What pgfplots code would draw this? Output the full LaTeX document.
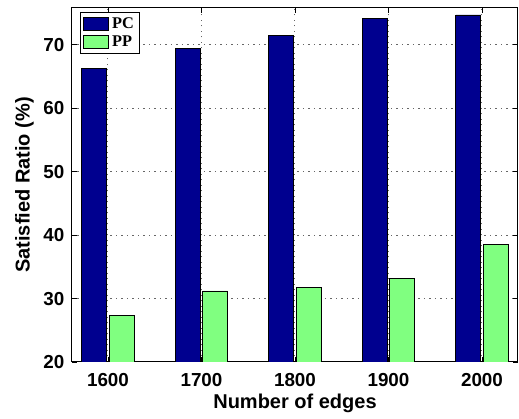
\documentclass[border=0pt]{standalone}
\usepackage{fontspec}
\setmainfont{Liberation Sans}
\newfontfamily\legfont{Liberation Serif}
\usepackage{pgfplots}
\pgfplotsset{compat=1.18}
\definecolor{pcblue}{rgb}{0,0,0.5625}
\definecolor{ppgreen}{rgb}{0.5,1,0.5}
\begin{document}
\begin{tikzpicture}
\begin{axis}[
  scale only axis,
  width=267.6pt, height=212.4pt,
  ybar=1.4pt, bar width=15pt,
  xmin=-0.385, xmax=4.385,
  ymin=20, ymax=75.8,
  xtick={0,1,2,3,4},
  xticklabels={1600,1700,1800,1900,2000},
  ytick={20,30,40,50,60,70},
  tick align=inside,
  major tick length=3pt,
  xtick pos=both, ytick pos=both,
  xmajorgrids, ymajorgrids,
  grid style={dash pattern=on 0.7pt off 2.6pt, black!60, line width=0.6pt},
  axis line style={black, line width=0.6pt},
  tick style={black, line width=0.5pt},
  /pgf/number format/assume math mode=true,
  ticklabel style={font=\bfseries\fontsize{11.3}{13}\selectfont},
  yticklabel style={xshift=-1pt},
  xticklabel style={yshift=-3pt},
  label style={font=\bfseries\fontsize{12}{14}\selectfont},
  xlabel={Number of edges},
  ylabel={Satisfied Ratio (\%)},
  ylabel style={yshift=-1pt},
  xlabel style={yshift=2pt},
  legend style={at={(0,1)}, anchor=north west, xshift=4.8pt, yshift=-2.4pt,
    font=\legfont\bfseries\fontsize{9.8}{11}\selectfont, draw=black, line width=0.6pt,
    inner xsep=1.5pt, inner ysep=1pt, row sep=-1pt, cells={anchor=west}},
  legend image code/.code={\draw[#1, line width=0.5pt] (0pt,-3.9pt) rectangle (15pt,3.9pt);},
  legend cell align=left,
]
\addplot[fill=pcblue, draw=black, line width=0.5pt] coordinates {(0,66.2) (1,69.4) (2,71.4) (3,74.1) (4,74.7)};
\addplot[fill=ppgreen, draw=black, line width=0.5pt] coordinates {(0,27.3) (1,31.2) (2,31.8) (3,33.2) (4,38.5)};
\legend{PC,PP}
\end{axis}
\path ([xshift=-43.2pt,yshift=-32.4pt]current axis.south west) rectangle ([xshift=0.6pt,yshift=4.8pt]current axis.north east);
\end{tikzpicture}
\end{document}
